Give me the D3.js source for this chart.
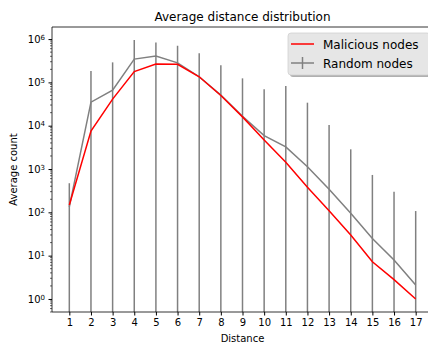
<!DOCTYPE html>
<html>
<head>
<meta charset="utf-8">
<script src="https://cdn.jsdelivr.net/npm/d3@7"></script>
<style>
  html, body { margin: 0; background: #fff; overflow: hidden; }
  svg { display: block; }
  text { font-family: "DejaVu Sans", sans-serif; fill: #000; }
</style>
</head>
<body>
<div id="chart-area"></div>
<script>
// distance 1..17
var distances = [1,2,3,4,5,6,7,8,9,10,11,12,13,14,15,16,17];
var maliciousMean = [148, 7500, 41000, 178000, 265000, 262000, 135000, 50000, 16000, 4700, 1430, 380, 109, 30, 7.2, 2.8, 1.0];
var randomMean = [134, 35000, 66000, 345000, 405000, 283000, 135000, 51000, 16500, 5900, 3250, 1130, 340, 95, 25, 7.9, 2.1];
var randomStd = [336, 147000, 224000, 605000, 430000, 422000, 335000, 199000, 107500, 63100, 79750, 32870, 10060, 2755, 705, 292, 105];
var yTicks = [1, 10, 100, 1000, 10000, 100000, 1000000];

var W = 428, H = 347;
var margin = {top: 27, bottom: 35, left: 52, right: -5};
var width = W - margin.left - margin.right;
var height = H - margin.top - margin.bottom;

var svg = d3.select("#chart-area")
  .append("svg")
  .attr("width", W)
  .attr("height", H);

var g = svg.append("g")
  .attr("transform", "translate(" + margin.left + "," + margin.top + ")");

var x = d3.scaleLinear().domain([0.2, 17.8]).range([0, width]);
var y = d3.scaleLog().domain([0.5, 1.9e6]).range([height, 0]);

svg.append("defs").append("clipPath").attr("id", "plotclip")
  .append("rect").attr("width", width).attr("height", height);

var plot = g.append("g").attr("clip-path", "url(#plotclip)");

// error bars (lower end falls below zero -> runs off the bottom)
plot.append("g").selectAll("line")
  .data(distances)
  .enter().append("line")
  .attr("x1", function(d) { return x(d); })
  .attr("x2", function(d) { return x(d); })
  .attr("y1", function(d, i) { return y(randomMean[i] + randomStd[i]); })
  .attr("y2", function(d, i) {
    var lo = randomMean[i] - randomStd[i];
    return lo > 0 ? y(lo) : height + 2;
  })
  .attr("stroke", "#808080")
  .attr("stroke-width", 1.5);

var line = function(vals) {
  return d3.line()
    .x(function(d) { return x(d); })
    .y(function(d, i) { return y(vals[i]); })(distances);
};

plot.append("path")
  .attr("d", line(randomMean))
  .attr("fill", "none")
  .attr("stroke", "#808080")
  .attr("stroke-width", 1.5);

plot.append("path")
  .attr("d", line(maliciousMean))
  .attr("fill", "none")
  .attr("stroke", "#ff0000")
  .attr("stroke-width", 1.5);

// x axis
var xAxis = d3.axisBottom(x).tickValues(distances).tickSize(3.5).tickPadding(3.5);
var gx = g.append("g")
  .attr("transform", "translate(0," + height + ")")
  .call(xAxis);
gx.selectAll("text").attr("font-size", "10px").attr("font-family", "DejaVu Sans");

// y axis, major + minor ticks
var minor = [];
for (var e = -1; e <= 6; e++) {
  for (var m = 2; m <= 9; m++) {
    var v = m * Math.pow(10, e);
    if (v >= 0.5 && v <= 1.9e6) minor.push(v);
  }
}
g.append("g").selectAll("line")
  .data(minor)
  .enter().append("line")
  .attr("x1", -2).attr("x2", 0)
  .attr("y1", function(d) { return y(d); })
  .attr("y2", function(d) { return y(d); })
  .attr("stroke", "#000").attr("stroke-width", 0.6);

var yAxis = d3.axisLeft(y).tickValues(yTicks).tickSize(3.5).tickPadding(3.5).tickFormat("");
var gy = g.append("g").call(yAxis);

gy.selectAll(".tick").each(function(d) {
  var t = d3.select(this).append("text")
    .attr("x", -7)
    .attr("dy", "0.32em")
    .attr("text-anchor", "end")
    .attr("font-size", "10px");
  t.append("tspan").text("10");
  t.append("tspan").attr("dy", "-0.45em").attr("font-size", "7px").text(Math.round(Math.log10(d)));
});

g.selectAll(".domain").remove();
// frame: left, top, bottom (right side is off the page)
g.append("path")
  .attr("d", "M" + width + ",0H0V" + height + "H" + width)
  .attr("fill", "none").attr("stroke", "#000").attr("stroke-width", 0.8);

// labels
svg.append("text")
  .attr("x", margin.left + width / 2).attr("y", 21)
  .attr("text-anchor", "middle").attr("font-size", "12px")
  .text("Average distance distribution");

svg.append("text")
  .attr("x", margin.left + width / 2).attr("y", 342)
  .attr("text-anchor", "middle").attr("font-size", "10px")
  .text("Distance");

svg.append("text")
  .attr("transform", "rotate(-90)")
  .attr("x", -(margin.top + height / 2)).attr("y", 17)
  .attr("text-anchor", "middle").attr("font-size", "10px")
  .text("Average count");

// legend
var leg = svg.append("g").attr("transform", "translate(288,33)");
leg.append("rect").attr("x", 2).attr("y", 2).attr("width", 142).attr("height", 42)
  .attr("rx", 3).attr("fill", "#b0b0b0");
leg.append("rect").attr("width", 142).attr("height", 42)
  .attr("rx", 3).attr("fill", "#e6e6e6").attr("stroke", "#d0d0d0").attr("stroke-width", 0.8);

var legendItems = [
  {label: "Malicious nodes", color: "#ff0000", err: false},
  {label: "Random nodes", color: "#808080", err: true}
];
legendItems.forEach(function(it, i) {
  var yy = 11 + i * 19;
  leg.append("line").attr("x1", 3).attr("x2", 26).attr("y1", yy).attr("y2", yy)
    .attr("stroke", it.color).attr("stroke-width", 1.5);
  if (it.err) {
    leg.append("line").attr("x1", 14.5).attr("x2", 14.5).attr("y1", yy - 6).attr("y2", yy + 6)
      .attr("stroke", it.color).attr("stroke-width", 1.5);
  }
  leg.append("text").attr("x", 35).attr("y", yy + 4.5)
    .attr("font-size", "12px").text(it.label);
});
</script>
</body>
</html>
